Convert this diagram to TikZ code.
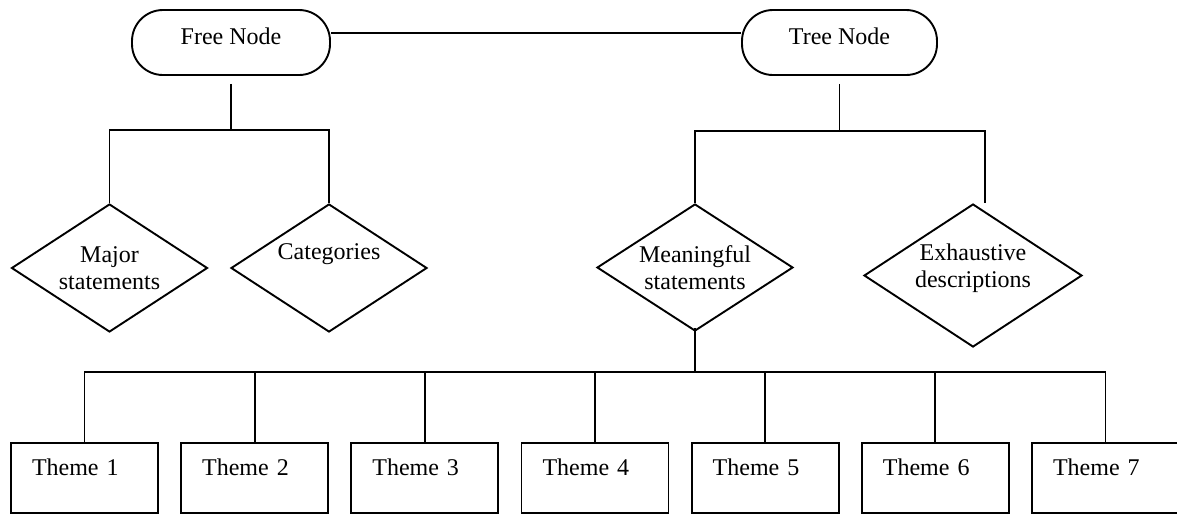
\documentclass[tikz,border=0pt]{standalone}
\usepackage{fontspec}
\setmainfont{Liberation Serif}
\usetikzlibrary{shapes.geometric}

\begin{document}
\begin{tikzpicture}[x=1pt, y=-1pt, line width=1.9pt,
every node/.style={font=\fontsize{24}{27}\selectfont},
pill/.style={draw, rounded corners=31pt, minimum width=198pt, minimum height=65pt, text height=17pt, text depth=13pt},
choice/.style={draw, diamond, aspect=1.5, inner sep=0pt, align=center},
theme/.style={draw, minimum height=70pt, text width=105pt, inner xsep=21pt, align=left, text height=17pt, text depth=23pt}]

\useasboundingbox (0,0) rectangle (1177,515);

\node[pill] (free) at (231,42.5) {Free Node};
\node[pill, minimum width=195pt] (tree) at (839.5,42.5) {Tree Node};

\node[choice, minimum width=196pt, minimum height=128pt] (major) at (109.5,268) {Major\\statements};
\node[choice, minimum width=196pt, minimum height=128pt] (cat) at (329,268) {Categories\\[5pt]\mbox{}};
\node[choice, minimum width=196pt, minimum height=127pt] (mean) at (695,267.5) {Meaningful\\statements};
\node[choice, minimum width=218pt, minimum height=143pt] (exh) at (973,275.5) {Exhaustive\\descriptions\\[-7pt]\mbox{}};

\foreach \i in {1,...,7}
  \node[theme] (th\i) at ({84.5+170.17*(\i-1)},478) {Theme \i};

\coordinate (fj) at (231,130);
\coordinate (tj) at (839.5,131);
\coordinate (tr) at (985,131);
\coordinate (bus) at (695,372);

\draw ([yshift=9.5pt]free.east) -- ([yshift=9.5pt]tree.west);
\draw ([yshift=-8pt]free.south) -- (fj);
\draw (major.north) -- (major.north |- fj) -- (cat.north |- fj) -- (cat.north);
\draw ([yshift=-8pt]tree.south) -- (tj);
\draw (mean.north) -- (mean.north |- tj) -- (tr) -- (tr |- exh.north);
\draw ([yshift=4pt]mean.south) -- (bus);
\draw (th1.north) -- (th1.north |- bus) -- (th7.north |- bus) -- (th7.north);
\foreach \i in {2,...,6}
  \draw (th\i.north |- bus) -- (th\i.north);

\end{tikzpicture}
\end{document}
